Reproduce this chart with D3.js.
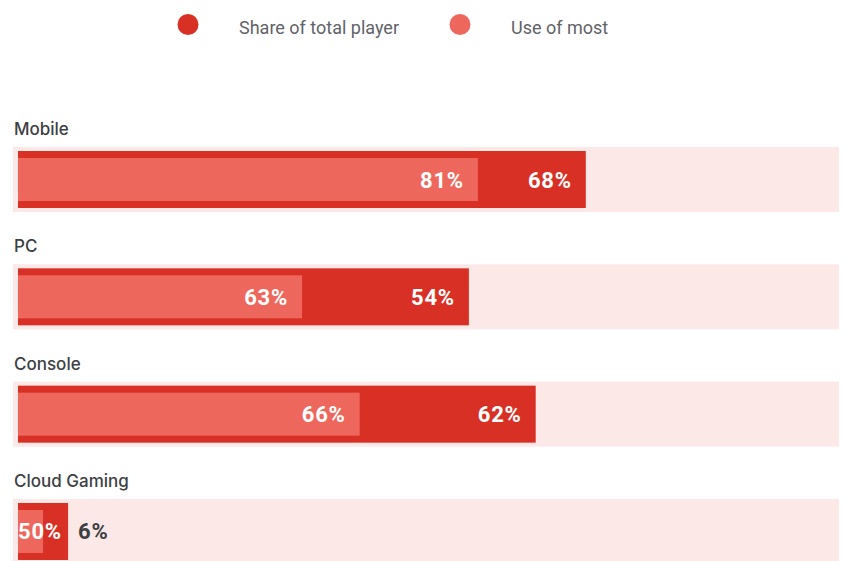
<!DOCTYPE html>
<html>
<head>
<meta charset="utf-8">
<script src="https://cdn.jsdelivr.net/npm/d3@7"></script>
<style>
  html, body { margin: 0; padding: 0; background: #ffffff; }
  svg { display: block; }
</style>
</head>
<body>
<svg id="chart" width="844" height="561"></svg>
<script>
// Gaming platform usage: share of total players and use of most
const categories = ["Mobile", "PC", "Console", "Cloud Gaming"];
const shareOfTotal = [68, 54, 62, 6];
const useOfMost = [81, 63, 66, 50];
const seriesNames = ["Share of total player", "Use of most"];

const colors = {
  share: "#d93025",
  use: "#ee675c",
  track: "#fce8e6",
  category: "#3c4043",
  legend: "#5f6368"
};

const width = 844, height = 561;
const svg = d3.select("#chart");

const rows = categories.map((c, i) => ({ name: c, share: shareOfTotal[i], use: useOfMost[i] }));

// Horizontal value scale (percent) and vertical row bands
const x = d3.scaleLinear().domain([0, 100]).range([18, 18 + 835]);
const y = d3.scaleBand().domain(categories).range([147, 147 + 117.33 * 3 + 65])
  .paddingInner(0.446).paddingOuter(0);

const trackLeft = 13, trackRight = 839;
const bandH = y.bandwidth();

// Legend
const legend = svg.append("g");
const legendItems = [
  { label: seriesNames[0], color: colors.share, cx: 188, tx: 239 },
  { label: seriesNames[1], color: colors.use, cx: 460, tx: 511 }
];
legendItems.forEach(d => {
  legend.append("circle").attr("cx", d.cx).attr("cy", 24.5).attr("r", 10.5).attr("fill", d.color);
  legend.append("text").attr("x", d.tx).attr("y", 33.5)
    .attr("font-family", "Roboto, 'Open Sans', sans-serif")
    .attr("font-size", 18).attr("fill", colors.legend)
    .text(d.label);
});

const row = svg.selectAll("g.row").data(rows).join("g").attr("class", "row");

// Category label above each track
row.append("text")
  .attr("x", 14)
  .attr("y", d => y(d.name) - 12)
  .attr("font-family", "Inter, Roboto, sans-serif")
  .attr("font-weight", 500)
  .attr("font-size", 17)
  .attr("fill", colors.category)
  .text(d => d.name);

// Background track
row.append("rect")
  .attr("x", trackLeft)
  .attr("y", d => y(d.name))
  .attr("width", trackRight - trackLeft)
  .attr("height", bandH)
  .attr("fill", colors.track);

// Share of total player bar
row.append("rect")
  .attr("x", x(0))
  .attr("y", d => y(d.name) + 4)
  .attr("width", d => x(d.share) - x(0))
  .attr("height", bandH - 8)
  .attr("fill", colors.share);

// Use of most bar, nested inside the share bar
const useWidth = d => (x(d.share) - x(0)) * d.use / 100;
row.append("rect")
  .attr("x", x(0))
  .attr("y", d => y(d.name) + 11)
  .attr("width", useWidth)
  .attr("height", bandH - 22)
  .attr("fill", colors.use);

const labelFont = "Roboto, 'Open Sans', sans-serif";
const fitsInside = d => (x(d.share) - x(0)) > 60;

// Value labels for the share bar
row.append("text")
  .attr("x", d => fitsInside(d) ? x(d.share) - 14 : x(d.share) + 10)
  .attr("y", d => y(d.name) + bandH / 2 + 8)
  .attr("text-anchor", d => fitsInside(d) ? "end" : "start")
  .attr("font-family", labelFont)
  .attr("font-weight", 700)
  .attr("font-size", 22)
  .attr("letter-spacing", 0.8)
  .attr("fill", d => fitsInside(d) ? "#ffffff" : colors.category)
  .text(d => d.share + "%");

// Value labels for the use bar
row.append("text")
  .attr("x", d => fitsInside(d) ? x(0) + useWidth(d) - 14 : x(0))
  .attr("y", d => y(d.name) + bandH / 2 + 8)
  .attr("text-anchor", d => fitsInside(d) ? "end" : "start")
  .attr("font-family", labelFont)
  .attr("font-weight", 700)
  .attr("font-size", 22)
  .attr("letter-spacing", 0.8)
  .attr("fill", "#ffffff")
  .text(d => d.use + "%");
</script>
</body>
</html>
